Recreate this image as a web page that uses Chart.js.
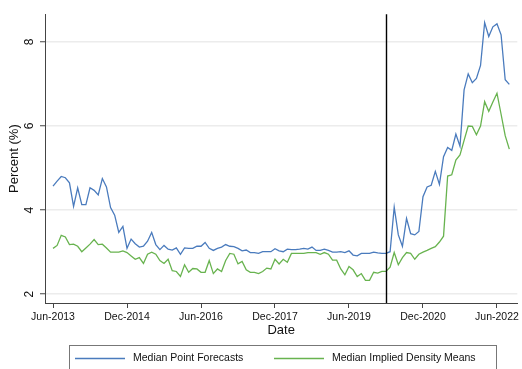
<!DOCTYPE html>
<html>
<head>
<meta charset="utf-8">
<script src="https://cdn.jsdelivr.net/npm/chart.js@4/dist/chart.umd.min.js"></script>
<style>
  html, body { margin: 0; padding: 0; background: #ffffff; }
  #wrap { width: 522px; height: 369px; }
</style>
</head>
<body>
<div id="wrap"><canvas id="c" width="522" height="369"></canvas></div>
<script>
// Monthly observations, Jun-2013 through Sep-2022
const MONTH_NAMES = ['Jan','Feb','Mar','Apr','May','Jun','Jul','Aug','Sep','Oct','Nov','Dec'];
const months = [];
for (let i = 0; i < 112; i++) {
  const m = (5 + i) % 12, y = 2013 + Math.floor((5 + i) / 12);
  months.push(MONTH_NAMES[m] + '-' + y);
}

const pointForecasts = [
  4.57,4.69,4.80,4.77,4.65,4.09,4.53,4.13,4.13,4.53,
  4.47,4.36,4.75,4.55,4.06,3.88,3.47,3.61,3.09,3.31,
  3.20,3.12,3.14,3.26,3.47,3.18,3.06,3.16,3.07,3.05,
  3.10,2.95,3.10,3.09,3.09,3.14,3.14,3.23,3.09,3.04,
  3.09,3.12,3.18,3.14,3.13,3.09,3.03,3.05,2.99,2.99,
  2.97,3.01,3.01,3.01,3.08,3.03,3.01,3.07,3.06,3.06,
  3.07,3.09,3.07,3.12,3.04,3.04,3.07,3.04,3.00,3.00,
  3.01,2.99,3.03,2.93,2.91,2.97,2.97,2.97,3.00,2.98,
  2.97,2.97,3.01,4.07,3.41,3.14,3.80,3.44,3.41,3.49,
  4.32,4.55,4.59,4.92,4.61,5.27,5.49,5.42,5.81,5.52,
  6.86,7.24,7.03,7.13,7.44,8.46,8.13,8.36,8.43,8.17,7.10,6.99
];

const densityMeans = [
  3.09,3.16,3.40,3.36,3.18,3.19,3.14,3.01,3.10,3.19,
  3.30,3.18,3.19,3.10,3.00,3.00,3.00,3.03,2.99,2.91,
  2.83,2.87,2.73,2.95,3.00,2.95,2.80,2.73,2.83,2.56,
  2.54,2.42,2.70,2.52,2.61,2.60,2.52,2.52,2.80,2.49,
  2.60,2.54,2.80,2.97,2.95,2.72,2.78,2.58,2.52,2.52,
  2.49,2.54,2.62,2.60,2.83,2.72,2.83,2.76,2.97,2.97,
  2.97,2.97,2.99,2.99,2.99,2.95,2.99,2.95,2.81,2.81,
  2.60,2.46,2.66,2.58,2.42,2.49,2.33,2.33,2.52,2.50,
  2.54,2.54,2.64,2.99,2.70,2.87,2.99,2.97,2.83,2.95,
  3.00,3.04,3.09,3.13,3.24,3.38,4.81,4.84,5.19,5.31,
  5.66,6.00,5.99,5.79,6.00,6.58,6.35,6.57,6.78,6.28,5.77,5.45
];

const xTickLabels = ['Jun-2013','Dec-2014','Jun-2016','Dec-2017','Jun-2019','Dec-2020','Jun-2022'];
const yTickValues = [2, 4, 6, 8];
const seriesNames = ['Median Point Forecasts', 'Median Implied Density Means'];
const markerMonth = 'Mar-2020';

const BLUE = '#4a7bbd';
const GREEN = '#68b34f';
const FONT = '"Liberation Sans", Arial, Helvetica, sans-serif';

const toPoints = arr => arr.map((v, i) => ({ x: i, y: v }));
const xTickIdx = xTickLabels.map(l => months.indexOf(l));

// vertical reference line and boxed legend
const extras = {
  id: 'extras',
  afterDatasetsDraw(chart) {
    const { ctx, chartArea, scales } = chart;
    const xm = Math.round(scales.x.getPixelForValue(months.indexOf(markerMonth))) + 0.5;
    ctx.save();
    ctx.strokeStyle = '#000';
    ctx.lineWidth = 1.4;
    ctx.beginPath();
    ctx.moveTo(xm, chartArea.top);
    ctx.lineTo(xm, chartArea.bottom);
    ctx.stroke();
    ctx.restore();
  },
  afterDraw(chart) {
    const { ctx } = chart;
    ctx.save();
    ctx.strokeStyle = '#777';
    ctx.lineWidth = 1;
    ctx.strokeRect(69.5, 345.5, 427, 40);
    const items = [
      { color: BLUE, x: 75, label: seriesNames[0] },
      { color: GREEN, x: 274, label: seriesNames[1] }
    ];
    ctx.font = '10.5px ' + FONT;
    ctx.textBaseline = 'middle';
    ctx.textAlign = 'left';
    items.forEach(it => {
      ctx.strokeStyle = it.color;
      ctx.lineWidth = 1.3;
      ctx.beginPath();
      ctx.moveTo(it.x, 358.5);
      ctx.lineTo(it.x + 50, 358.5);
      ctx.stroke();
      ctx.fillStyle = '#111';
      ctx.fillText(it.label, it.x + 58, 358.5);
    });
    ctx.restore();
  }
};

new Chart(document.getElementById('c'), {
  type: 'line',
  data: {
    datasets: [
      { label: seriesNames[0], data: toPoints(pointForecasts), borderColor: BLUE, borderWidth: 1.3, pointRadius: 0, tension: 0 },
      { label: seriesNames[1], data: toPoints(densityMeans), borderColor: GREEN, borderWidth: 1.3, pointRadius: 0, tension: 0 }
    ]
  },
  options: {
    responsive: false,
    animation: false,
    devicePixelRatio: 1,
    layout: { padding: { left: 0, top: 7, right: 3, bottom: 26 } },
    plugins: { legend: { display: false }, tooltip: { enabled: false } },
    scales: {
      x: {
        type: 'linear',
        min: -1.95,
        max: 112.95,
        afterBuildTicks: s => { s.ticks = xTickIdx.map(v => ({ value: v })); },
        afterFit: s => { s.height = 40; },
        ticks: {
          callback: v => xTickLabels[xTickIdx.indexOf(v)],
          font: { family: FONT, size: 10.5 },
          color: '#111',
          padding: 3,
          maxRotation: 0,
          autoSkip: false
        },
        grid: { drawOnChartArea: false, drawTicks: true, tickLength: 5, tickColor: '#444', tickWidth: 1 },
        border: { display: true, color: '#444', width: 1 },
        title: { display: true, text: 'Date', font: { family: FONT, size: 13 }, color: '#111', padding: { top: 0, bottom: 5 } }
      },
      y: {
        min: 1.79,
        max: 8.66,
        afterBuildTicks: s => { s.ticks = yTickValues.map(v => ({ value: v })); },
        afterFit: s => { s.width = 45; },
        ticks: {
          font: { family: FONT, size: 12 },
          color: '#111',
          minRotation: 90,
          maxRotation: 90,
          crossAlign: 'center',
          padding: 7
        },
        grid: { color: '#ececec', lineWidth: 1.5, drawTicks: true, tickLength: 5, tickColor: '#444', tickWidth: 1 },
        border: { display: true, color: '#444', width: 1 },
        title: { display: true, text: 'Percent (%)', font: { family: FONT, size: 13 }, color: '#111', padding: { top: 7, bottom: 0 } }
      }
    }
  },
  plugins: [extras]
});
</script>
</body>
</html>
